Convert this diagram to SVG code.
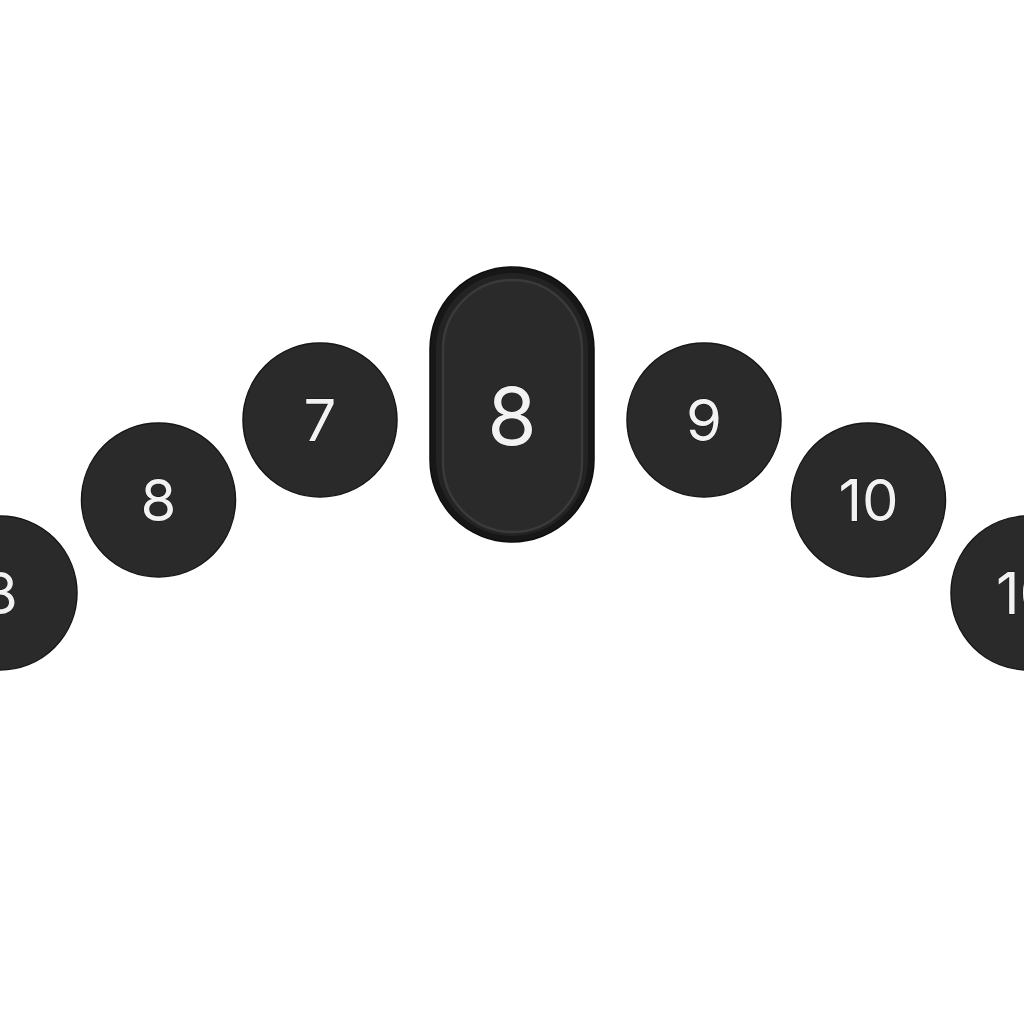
<svg xmlns="http://www.w3.org/2000/svg" width="1024" height="1024" viewBox="0 0 1024 1024">
  <defs>
    <style>
      .disc { fill: #2a2a2a; stroke: #161616; stroke-width: 1.5; }
      .num { font-family: Inter, "Open Sans", "Liberation Sans", sans-serif; fill: #f2f2f2; stroke: #111; stroke-width: 0.8; paint-order: stroke; text-anchor: middle; font-weight: 400; }
      .small { font-size: 58px; }
      .big { font-size: 80px; }
    </style>
  </defs>
  <rect width="1024" height="1024" fill="#ffffff"/>
  <g id="connectors"></g>
  <g id="node-left-edge">
    <circle class="disc" cx="0" cy="593" r="77"/>
    <text class="num small" x="0" y="614">8</text>
  </g>
  <g id="node-8">
    <circle class="disc" cx="158.5" cy="500" r="77"/>
    <text class="num small" x="158.5" y="521">8</text>
  </g>
  <g id="node-7">
    <circle class="disc" cx="320" cy="420" r="77"/>
    <text class="num small" x="320" y="441">7</text>
  </g>
  <g id="node-center">
    <rect x="430" y="267" width="164" height="275" rx="82" ry="82" fill="#171717" stroke="#0e0e0e" stroke-width="1.5"/>
    <rect x="436" y="273" width="152" height="263" rx="76" ry="76" fill="#232323"/>
    <rect x="443" y="280" width="139" height="252" rx="69.5" ry="69.5" fill="#2a2a2a" stroke="#3a3a3a" stroke-width="2.5"/>
    <text class="num big" x="512" y="445">8</text>
  </g>
  <g id="node-9">
    <circle class="disc" cx="704" cy="420" r="77"/>
    <text class="num small" x="704" y="441">9</text>
  </g>
  <g id="node-10">
    <circle class="disc" cx="868.5" cy="500" r="77"/>
    <text class="num small" x="868.5" y="521">10</text>
  </g>
  <g id="node-right-edge">
    <circle class="disc" cx="1028" cy="593" r="77"/>
    <text class="num small" x="1026" y="614">10</text>
  </g>
</svg>
